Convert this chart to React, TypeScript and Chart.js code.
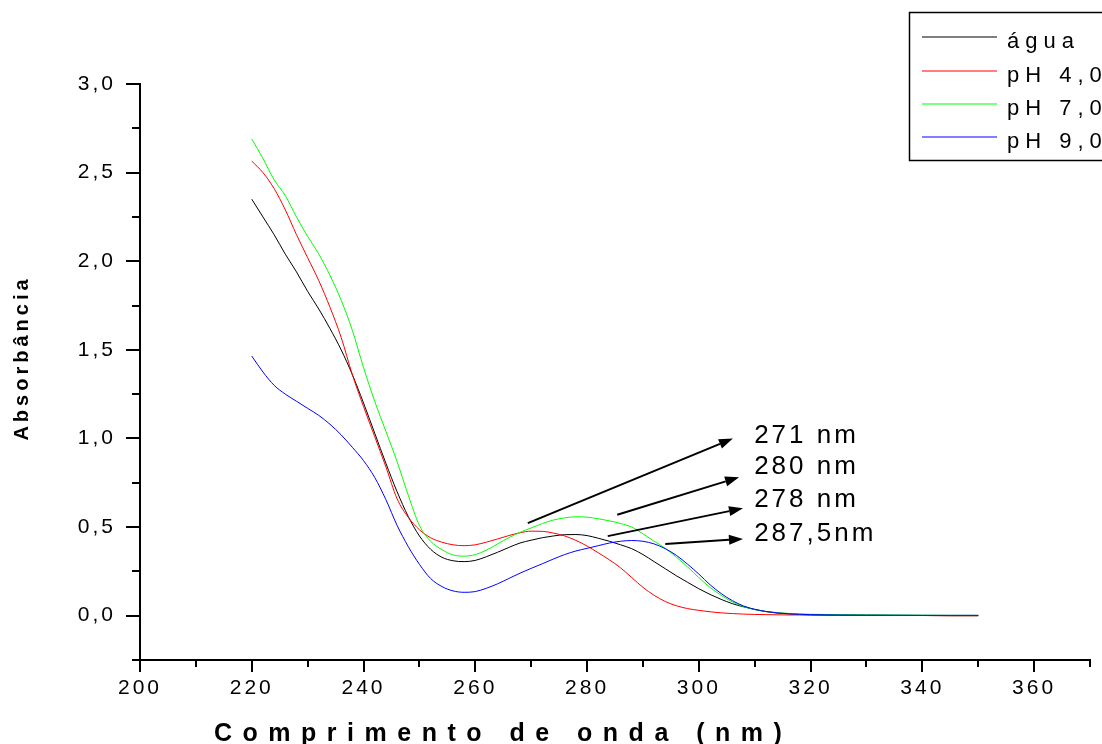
import { useEffect, useRef } from 'react';
import { Chart, registerables } from 'chart.js';
Chart.register(...registerables);

const wavelengths = [220, 222, 224, 226, 228, 230, 232, 234, 236, 238, 240, 242, 244, 246, 248, 250, 252, 254, 256, 258, 260, 262, 264, 266, 268, 270, 272, 274, 276, 278, 280, 282, 284, 286, 288, 290, 292, 294, 296, 298, 300, 302, 304, 306, 308, 310, 312, 314, 316, 318, 320, 325, 330, 335, 340, 345, 350];

const agua = [2.35, 2.25, 2.15, 2.04, 1.94, 1.83, 1.73, 1.62, 1.50, 1.36, 1.20, 1.03, 0.86, 0.70, 0.56, 0.45, 0.375, 0.33, 0.31, 0.305, 0.312, 0.333, 0.358, 0.385, 0.41, 0.426, 0.44, 0.45, 0.457, 0.458, 0.452, 0.437, 0.42, 0.40, 0.378, 0.345, 0.305, 0.265, 0.225, 0.188, 0.152, 0.12, 0.092, 0.068, 0.05, 0.035, 0.023, 0.015, 0.01, 0.007, 0.005, 0.003, 0.002, 0.001, 0.001, 0.0, 0.0];

const ph4 = [2.565, 2.50, 2.41, 2.29, 2.15, 2.02, 1.89, 1.74, 1.57, 1.36, 1.18, 1.01, 0.84, 0.66, 0.555, 0.485, 0.44, 0.415, 0.40, 0.395, 0.40, 0.415, 0.433, 0.452, 0.468, 0.477, 0.476, 0.466, 0.45, 0.425, 0.393, 0.355, 0.315, 0.27, 0.215, 0.16, 0.115, 0.08, 0.056, 0.04, 0.03, 0.022, 0.016, 0.012, 0.009, 0.007, 0.006, 0.005, 0.004, 0.004, 0.003, 0.002, 0.002, 0.001, 0.001, 0.0, 0.0];

const ph7 = [2.69, 2.58, 2.46, 2.37, 2.25, 2.14, 2.04, 1.92, 1.78, 1.61, 1.40, 1.21, 1.04, 0.87, 0.68, 0.51, 0.42, 0.373, 0.343, 0.336, 0.345, 0.37, 0.405, 0.44, 0.47, 0.495, 0.52, 0.54, 0.552, 0.558, 0.556, 0.547, 0.535, 0.52, 0.50, 0.462, 0.42, 0.38, 0.33, 0.275, 0.215, 0.16, 0.115, 0.078, 0.052, 0.035, 0.024, 0.017, 0.013, 0.01, 0.008, 0.006, 0.005, 0.004, 0.003, 0.002, 0.002];

const ph9 = [1.465, 1.375, 1.30, 1.25, 1.21, 1.17, 1.13, 1.08, 1.02, 0.95, 0.875, 0.78, 0.655, 0.51, 0.39, 0.29, 0.21, 0.165, 0.14, 0.132, 0.136, 0.155, 0.18, 0.21, 0.24, 0.267, 0.293, 0.32, 0.345, 0.365, 0.38, 0.395, 0.41, 0.42, 0.424, 0.42, 0.405, 0.378, 0.34, 0.29, 0.235, 0.175, 0.125, 0.085, 0.055, 0.036, 0.024, 0.016, 0.011, 0.008, 0.006, 0.004, 0.003, 0.003, 0.002, 0.002, 0.002];

const seriesLabels = ['água', 'pH 4,0', 'pH 7,0', 'pH 9,0'];
const seriesColors = ['#000000', '#ff0000', '#00ff00', '#0000ff'];

const xMajorTicks = [200, 220, 240, 260, 280, 300, 320, 340, 360];
const xMinorTicks = [210, 230, 250, 270, 290, 310, 330, 350, 370];
const yMajorTicks = [0, 0.5, 1.0, 1.5, 2.0, 2.5, 3.0];
const yMinorTicks = [-0.25, 0.25, 0.75, 1.25, 1.75, 2.25, 2.75];

// peak annotations (data units)
const peakLabels = ['271 nm', '280 nm', '278 nm', '287,5nm'];
const arrowStartX = [269.4, 285.4, 283.7, 294.0];
const arrowStartY = [0.522, 0.570, 0.449, 0.405];
const arrowEndX = [306.1, 307.2, 307.9, 307.9];
const arrowEndY = [1.0, 0.781, 0.606, 0.433];
const labelX = [309.9, 309.9, 309.9, 309.9];
const labelY = [1.013, 0.838, 0.653, 0.461];

const FONT = '"Liberation Sans", Arial, sans-serif';
const fmt = (v: number) => v.toFixed(1).replace('.', ',');

const decorPlugin = {
  id: 'decor',
  beforeDraw(chart: any) {
    const ctx = chart.ctx;
    ctx.letterSpacing = '3px';
  },
  afterDraw(chart: any) {
    const ctx = chart.ctx as CanvasRenderingContext2D;
    const x = chart.scales.x;
    const y = chart.scales.y;
    const area = chart.chartArea;
    ctx.save();
    ctx.strokeStyle = '#000';
    ctx.lineWidth = 2;
    ctx.beginPath();
    xMinorTicks.forEach((v) => {
      const px = Math.round(x.getPixelForValue(v));
      ctx.moveTo(px, area.bottom);
      ctx.lineTo(px, area.bottom + 7);
    });
    yMinorTicks.forEach((v) => {
      const py = Math.round(y.getPixelForValue(v));
      ctx.moveTo(area.left, py);
      ctx.lineTo(area.left - 8, py);
    });
    ctx.stroke();

    // arrows
    ctx.fillStyle = '#000';
    for (let i = 0; i < peakLabels.length; i++) {
      const x0 = x.getPixelForValue(arrowStartX[i]);
      const y0 = y.getPixelForValue(arrowStartY[i]);
      const x1 = x.getPixelForValue(arrowEndX[i]);
      const y1 = y.getPixelForValue(arrowEndY[i]);
      const ang = Math.atan2(y1 - y0, x1 - x0);
      const hl = 14;
      const hw = 5;
      const bx = x1 - hl * Math.cos(ang);
      const by = y1 - hl * Math.sin(ang);
      ctx.beginPath();
      ctx.lineWidth = 2;
      ctx.moveTo(x0, y0);
      ctx.lineTo(bx, by);
      ctx.stroke();
      ctx.beginPath();
      ctx.moveTo(x1, y1);
      ctx.lineTo(bx + hw * Math.sin(ang), by - hw * Math.cos(ang));
      ctx.lineTo(bx - hw * Math.sin(ang), by + hw * Math.cos(ang));
      ctx.closePath();
      ctx.fill();

      ctx.font = `26px ${FONT}`;
      (ctx as any).letterSpacing = '3px';
      ctx.textAlign = 'left';
      ctx.textBaseline = 'middle';
      ctx.fillText(peakLabels[i], x.getPixelForValue(labelX[i]), y.getPixelForValue(labelY[i]));
    }

    // axis titles
    ctx.font = `bold 25px ${FONT}`;
    (ctx as any).letterSpacing = '10.5px';
    ctx.textAlign = 'left';
    ctx.textBaseline = 'alphabetic';
    ctx.fillText('Comprimento de onda (nm)', 214, 741);

    ctx.save();
    ctx.translate(28, 358);
    ctx.rotate(-Math.PI / 2);
    ctx.font = `bold 20px ${FONT}`;
    (ctx as any).letterSpacing = '4px';
    ctx.textAlign = 'center';
    ctx.textBaseline = 'alphabetic';
    ctx.fillText('Absorbância', 0, 0);
    ctx.restore();

    // legend
    ctx.lineWidth = 1.5;
    ctx.strokeStyle = '#000';
    ctx.strokeRect(909.5, 12.5, 220, 148);
    const rows = [37, 71, 104, 137];
    ctx.font = `22px ${FONT}`;
    (ctx as any).letterSpacing = '6px';
    ctx.textAlign = 'left';
    ctx.textBaseline = 'alphabetic';
    for (let i = 0; i < seriesLabels.length; i++) {
      ctx.beginPath();
      ctx.lineWidth = 1.2;
      ctx.strokeStyle = seriesColors[i];
      ctx.moveTo(922, rows[i]);
      ctx.lineTo(997, rows[i]);
      ctx.stroke();
      ctx.fillStyle = '#000';
      ctx.fillText(seriesLabels[i], 1007, rows[i] + 11);
    }
    ctx.restore();
  },
};

export default function App() {
  const ref = useRef<HTMLCanvasElement>(null);
  useEffect(() => {
    document.body.style.margin = '0';
    const series = [agua, ph4, ph7, ph9];
    const chart = new Chart(ref.current as HTMLCanvasElement, {
      type: 'line',
      data: {
        labels: wavelengths,
        datasets: series.map((s, i) => ({
          label: seriesLabels[i],
          data: wavelengths.map((w, j) => ({ x: w, y: s[j] })),
          borderColor: seriesColors[i],
          borderWidth: 1,
          pointRadius: 0,
          fill: false,
          cubicInterpolationMode: 'monotone' as const,
          order: 3 - i,
        })),
      },
      options: {
        responsive: false,
        animation: false,
        devicePixelRatio: 1,
        layout: { padding: { top: 84, right: 12, left: 0, bottom: 0 } },
        plugins: { legend: { display: false }, tooltip: { enabled: false } },
        scales: {
          x: {
            type: 'linear',
            min: 200,
            max: 370,
            afterBuildTicks: (scale: any) => {
              scale.ticks = xMajorTicks.map((v) => ({ value: v }));
            },
            afterFit: (scale: any) => {
              scale.height = 84;
            },
            grid: { drawOnChartArea: false, drawTicks: true, tickLength: 12, color: '#000', lineWidth: 2 },
            border: { display: true, color: '#000', width: 2 },
            ticks: {
              color: '#000',
              font: { family: FONT, size: 21 },
              padding: 4,
              maxRotation: 0,
              autoSkip: false,
              callback: (v: any) => String(v),
            },
          },
          y: {
            type: 'linear',
            min: -0.25,
            max: 3.0,
            afterBuildTicks: (scale: any) => {
              scale.ticks = yMajorTicks.map((v) => ({ value: v }));
            },
            afterFit: (scale: any) => {
              scale.width = 140;
            },
            grid: { drawOnChartArea: false, drawTicks: true, tickLength: 14, color: '#000', lineWidth: 2 },
            border: { display: true, color: '#000', width: 2 },
            ticks: {
              color: '#000',
              font: { family: FONT, size: 21 },
              padding: 10,
              autoSkip: false,
              callback: (v: any) => fmt(Number(v)),
            },
          },
        },
      },
      plugins: [decorPlugin],
    });
    return () => chart.destroy();
  }, []);
  return (
    <div style={{ position: 'fixed', left: 0, top: 0, width: 1102, height: 744, background: '#fff' }}>
      <canvas ref={ref} width={1102} height={744} style={{ display: 'block' }} />
    </div>
  );
}
